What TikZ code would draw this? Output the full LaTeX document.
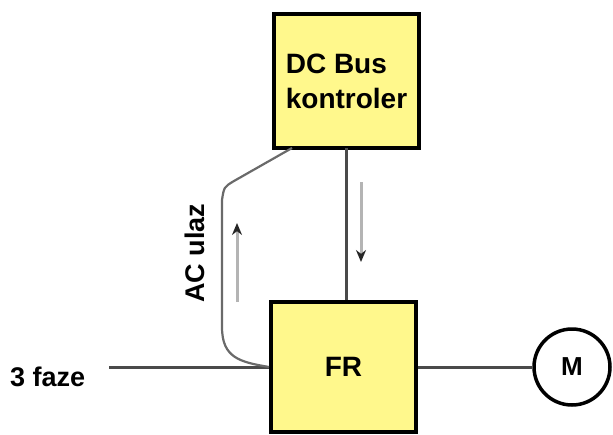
\documentclass[tikz,border=0pt]{standalone}
\usepackage{fontspec}
\setmainfont{Liberation Sans}
\usetikzlibrary{calc}
\usetikzlibrary{arrows.meta}
\definecolor{boxyellow}{HTML}{FFF88C}
\definecolor{wiregray}{HTML}{4A4A4A}
\definecolor{pathgray}{HTML}{6A6A6A}
\definecolor{flowgray}{HTML}{B4B4B4}
\tikzset{
  block/.style={draw=black,fill=boxyellow,line width=4pt,minimum width=145pt,minimum height=132pt,inner sep=0pt,font=\fontsize{28}{35}\selectfont\bfseries},
  wire/.style={draw=wiregray,line width=3pt},
  feed/.style={draw=pathgray,line width=2.2pt},
  flow/.style={draw=flowgray,line width=3pt,-{Stealth[length=12pt,width=10pt,color=black!85]}},
  lbl/.style={font=\fontsize{27}{30}\selectfont\bfseries,inner sep=0pt}
}
\begin{document}
\begin{tikzpicture}[x=1pt,y=-1pt]
\useasboundingbox (0,0) rectangle (613,434);
% blocks
\node[block,minimum height=134pt,align=left] (dcbus) at (346.5,81) {DC Bus\\kontroler};
\node[block,minimum height=130pt] (fr) at (343.5,367) {FR};
\node[draw=black,line width=3.5pt,circle,minimum size=76pt,inner sep=0pt,font=\fontsize{26}{30}\selectfont\bfseries] (motor) at (572,367) {M};
\node[lbl,anchor=west] (faze) at (10,377) {3 faze};
\node[lbl,rotate=90] (acin) at (195,253) {AC ulaz};
% wires
\coordinate (mains) at (109,367);
\draw[wire] (mains) -- (fr.west);
\draw[wire] (fr.east) -- (motor.west);
\draw[wire] (dcbus.south |- 0,148) -- (dcbus.south |- fr.north);
% AC feed path
\coordinate (tap) at (292,148);
\coordinate (bend) at (234,181);
\coordinate (topv) at (222,200);
\coordinate (botv) at (222,327);
\draw[feed] (tap) -- (bend) .. controls (224,187) .. (topv) -- (botv)
      .. controls (222,358) and (240,362) .. (fr.west);
% flow arrows
\coordinate (dnA) at (361,182);
\coordinate (dnB) at (361,262);
\coordinate (upA) at (237,302);
\coordinate (upB) at (237,223);
\draw[flow] (dnA) -- (dnB);
\draw[flow] (upA) -- (upB);
\end{tikzpicture}
\end{document}
